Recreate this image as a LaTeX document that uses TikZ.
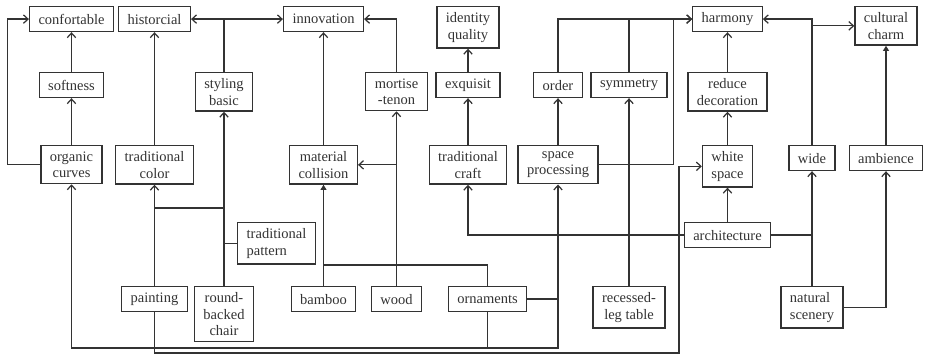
\documentclass[tikz,border=0pt]{standalone}
\usepackage{fontspec}
\setmainfont{Liberation Serif}
\usetikzlibrary{arrows.meta}

\begin{document}
\begin{tikzpicture}[x=0.02cm, y=-0.02cm, line width=0.7pt, black!80,
    >={Straight Barb[length=2.6pt,width=4.8pt]},
    box/.style={draw, anchor=north, align=center, inner xsep=5.1pt, inner ysep=3.3pt,
      minimum height=14.2pt, font=\fontsize{8.25}{9.5}\selectfont},
    fill tip/.style={-{Triangle[length=3pt,width=3.4pt]}}]
  \useasboundingbox (0,0) rectangle (927,356);
  % top row
  \node[box] (conf) at (71.5,6) {confortable};
  \node[box] (hist) at (154.5,6) {historcial};
  \node[box] (innov) at (323.5,6) {innovation};
  \node[box] (ident) at (468,6) {identity\\quality};
  \node[box] (harm) at (727.5,6) {harmony};
  \node[box] (cult) at (886,6) {cultural\\charm};
  % second row
  \node[box] (soft) at (71.5,72) {softness};
  \node[box] (styling) at (224,72) {styling\\basic};
  \node[box] (mortise) at (396.5,72) {mortise\\-tenon};
  \node[box] (exq) at (468,72) {exquisit};
  \node[box] (order) at (558,72) {order};
  \node[box] (sym) at (629,72) {symmetry};
  \node[box] (reduce) at (727.5,72) {reduce\\decoration};
  % third row
  \node[box] (organic) at (71.5,145) {organic\\curves};
  \node[box] (tcolor) at (154.5,145) {traditional\\color};
  \node[box] (matcol) at (323.5,145) {material\\collision};
  \node[box] (tcraft) at (468,145) {traditional\\craft};
  \node[box] (space) at (558,145) {space\\processing};
  \node[box] (white) at (727.5,145) {white\\space};
  \node[box] (wide) at (812,145) {wide};
  \node[box] (amb) at (886,145) {ambience};
  % fourth row
  \node[box, align=left] (tpat) at (276.5,222) {traditional\\pattern};
  \node[box] (arch) at (727.5,222) {architecture};
  % bottom row
  \node[box] (paint) at (154.5,286) {painting};
  \node[box] (chair) at (224,286) {round-\\backed\\chair};
  \node[box] (bamboo) at (323.5,286) {bamboo};
  \node[box] (wood) at (396.5,286) {wood};
  \node[box] (orn) at (487.5,286) {ornaments};
  \node[box] (rtable) at (629,286) {recessed-\\leg table};
  \node[box, align=left] (natural) at (812,286) {natural\\scenery};

  \coordinate (j1) at (154.5,208);
  \coordinate (j2) at (323.5,265);
  \coordinate (j3) at (487.5,348);
  \coordinate (j4) at (679,353);

  % left part
  \draw[->] (soft) -- (conf);
  \draw[->] (organic) -- (soft);
  \draw[->] (organic.west) -- ++(-33,0) |- (conf.west);
  \draw[->] (tcolor) -- (hist);
  \draw[->] (styling.north) |- (hist.east);
  \draw[->] (styling.north) |- (innov.west);
  \draw[->] (paint) -- (tcolor);
  \draw[->] (chair) -- (styling);
  \draw (j1) -- (j1 -| chair);
  \draw (tpat.west) -- (tpat.west -| chair);
  % middle part
  \draw[->] (matcol) -- (innov);
  \draw[->] (mortise.north) |- (innov.east);
  \draw[->] (wood) -- (mortise);
  \draw[->] (wood |- matcol) -- (matcol.east);
  \draw[fill tip] (bamboo) -- (matcol);
  \draw (orn.north) |- (j2);
  \draw[->] (tcraft) -- (exq);
  \draw[->] (exq) -- (ident);
  \draw[->] (arch.west) -| (tcraft.south);
  \draw[->] (space) -- (order);
  \draw[->] (order.north) |- (harm.west);
  \draw (sym.north) -- (sym.north |- harm.west);
  \draw[->] (space.east) -- ++(75,0) |- (harm.west);
  \draw[->] (rtable) -- (sym);
  \draw[->] (orn.east) -| (space.south);
  \draw[->] (orn.south) -- (j3) -| (organic.south);
  \draw (orn.east -| space) -- (space |- j3) -- (j3);
  \draw[->] (paint.south) |- (j4) |- (white.west);
  % right part
  \draw[->] (arch) -- (white);
  \draw[->] (white) -- (reduce);
  \draw[->] (reduce) -- (harm);
  \draw[->] (natural) -- (wide);
  \draw (arch.east) -- (arch.east -| wide);
  \draw[->] (natural.east) -| (amb.south);
  \draw[fill tip] (amb) -- (cult);
  \draw[->] (wide.north) |- (harm.east);
  \draw[->] (wide.north |- cult.west) -- (cult.west);
\end{tikzpicture}
\end{document}
